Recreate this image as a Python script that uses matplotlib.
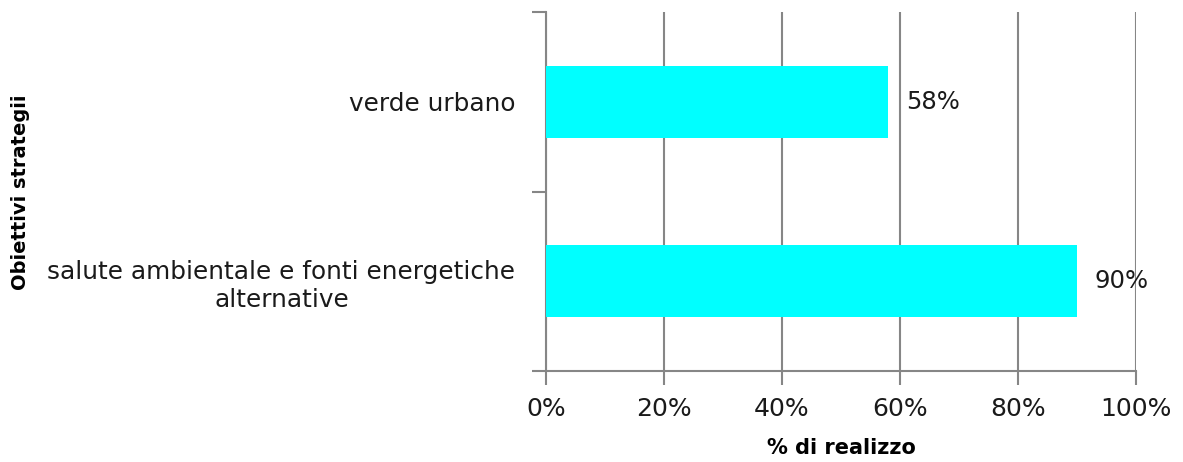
import matplotlib.pyplot as plt
import matplotlib.ticker as mticker

plt.rcParams['font.family'] = ['DejaVu Sans']

# data
categories = ['salute ambientale e fonti energetiche\nalternative', 'verde urbano']
values = [0.90, 0.58]
value_labels = ['90%', '58%']

fig = plt.figure(figsize=(11.83, 4.62), dpi=100)
ax = fig.add_axes([546 / 1183, 1 - 371 / 462, 590 / 1183, 359 / 462])

pos = list(range(len(categories)))
ax.barh(pos, values, height=0.4, color='#00FFFF', zorder=3)

for p, v, lab in zip(pos, values, value_labels):
    ax.text(v + 0.03, p, lab, va='center', ha='left', fontsize=17.5, color='#1a1a1a')

ax.set_xlim(0, 1)
ax.set_ylim(-0.5, 1.5)
ax.xaxis.set_major_locator(mticker.MultipleLocator(0.2))
ax.xaxis.set_major_formatter(mticker.PercentFormatter(1.0, decimals=0))
ax.grid(axis='x', color='#868686', linewidth=1.5, zorder=0)

ax.set_yticks(pos)
ax.set_yticklabels(categories, fontsize=17.8, multialignment='center', color='#1a1a1a')
ax.set_yticks([-0.5, 0.5, 1.5], minor=True)
ax.tick_params(axis='y', which='major', length=0, pad=22)
ax.tick_params(axis='y', which='minor', length=10, width=1.5, color='#868686')
ax.tick_params(axis='x', length=10, width=1.5, color='#868686', labelsize=18,
               labelcolor='#1a1a1a', pad=9)

for s in ['top', 'right']:
    ax.spines[s].set_visible(False)
for s in ['left', 'bottom']:
    ax.spines[s].set_color('#868686')
    ax.spines[s].set_linewidth(1.5)

ax.set_xlabel('% di realizzo', fontsize=15, fontweight='bold', labelpad=12)
fig.text(21 / 1183, 1 - 192 / 462, 'Obiettivi strategii', rotation=90,
         fontsize=14, fontweight='bold', ha='center', va='center')

fig.savefig('out.png', dpi=100, facecolor='white')
